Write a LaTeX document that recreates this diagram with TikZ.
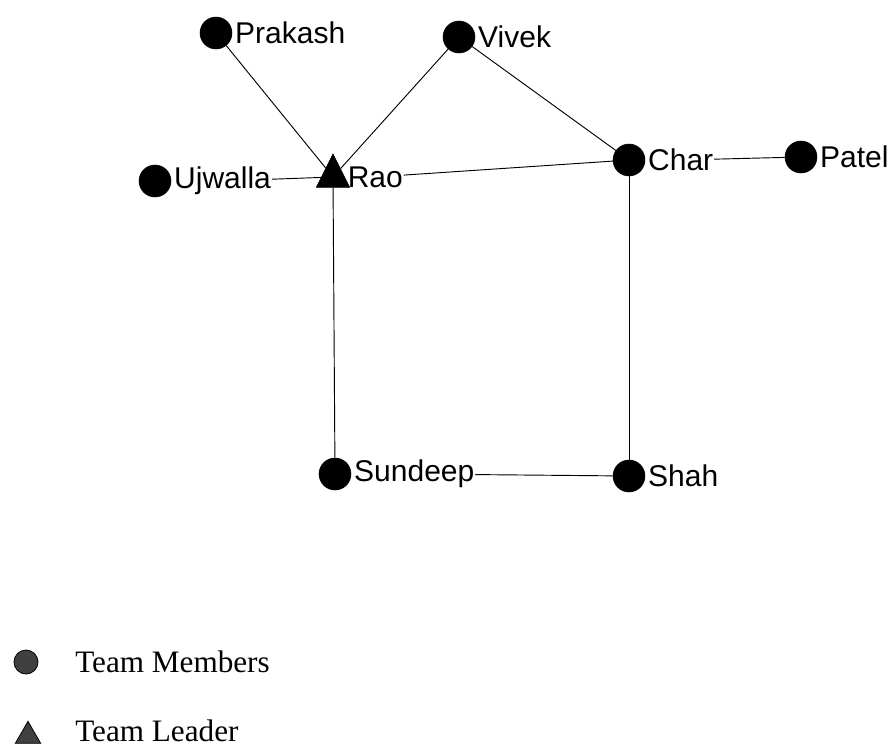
\documentclass[tikz,border=0pt]{standalone}
\usepackage{fontspec}
\setmainfont{Liberation Serif}
\setsansfont{Liberation Sans}
\usetikzlibrary{shapes.geometric}

\begin{document}
\begin{tikzpicture}[x=0.75pt, y=-0.75pt,
    member/.style={draw, circle, fill=black, minimum size=24pt, inner sep=0pt},
    leader/.style={draw, isosceles triangle, isosceles triangle apex angle=53, shape border rotate=90,
      fill=black, minimum width=25pt, minimum height=25pt, inner sep=0pt},
    keymark/.style={draw=black, fill=black!75, inner sep=0pt, line width=0.6pt},
    keytext/.style={anchor=west, inner sep=0pt, font=\fontsize{23.4}{28}\selectfont},
    every label/.style={font=\sffamily\fontsize{22.5}{25}\selectfont, inner sep=0.5pt},
    label distance=1.5pt]
  \useasboundingbox (0,0) rectangle (890,747);

  % Nodes
  \node[member, label={[name=prakashL]right:Prakash}] (prakash) at (216,33) {};
  \node[member, label={[name=vivekL]right:Vivek}] (vivek) at (459,37) {};
  \node[member, label={[name=ujwallaL]right:Ujwalla}] (ujwalla) at (155,181) {};
  \node[leader, label={[name=raoL]right:Rao}] (rao) at (333,177) {};
  \node[member, label={[name=charL]right:Char}] (char) at (629,160) {};
  \node[member, label={[name=patelL]right:Patel}] (patel) at (801,157) {};
  \node[member, label={[name=sundeepL]right:Sundeep}] (sundeep) at (335,474) {};
  \node[member, label={[name=shahL]right:Shah}] (shah) at (629,476) {};

  % Edges
  \draw[line width=0.7pt] (prakash) -- (rao);
  \draw[line width=0.7pt] (vivek) -- (rao);
  \draw[line width=0.7pt] (vivek) -- (char);
  \draw[line width=0.7pt] (ujwallaL) -- (rao);
  \draw[line width=0.7pt] (raoL) -- (char);
  \draw[line width=0.7pt] (charL) -- (patel);
  \draw[line width=0.7pt] (rao) -- (sundeep);
  \draw[line width=0.7pt] (char) -- (shah);
  \draw[line width=0.7pt] (sundeepL) -- (shah);

  % Legend
  \node[keymark, circle, minimum size=18pt] (memberkey) at (26,662) {};
  \node[keytext] (membertext) at (75,662) {Team Members};
  \node[keymark, regular polygon, regular polygon sides=3, minimum size=22pt] (leaderkey) at (28,736) {};
  \node[keytext] (leadertext) at (75,731) {Team Leader};
\end{tikzpicture}
\end{document}
